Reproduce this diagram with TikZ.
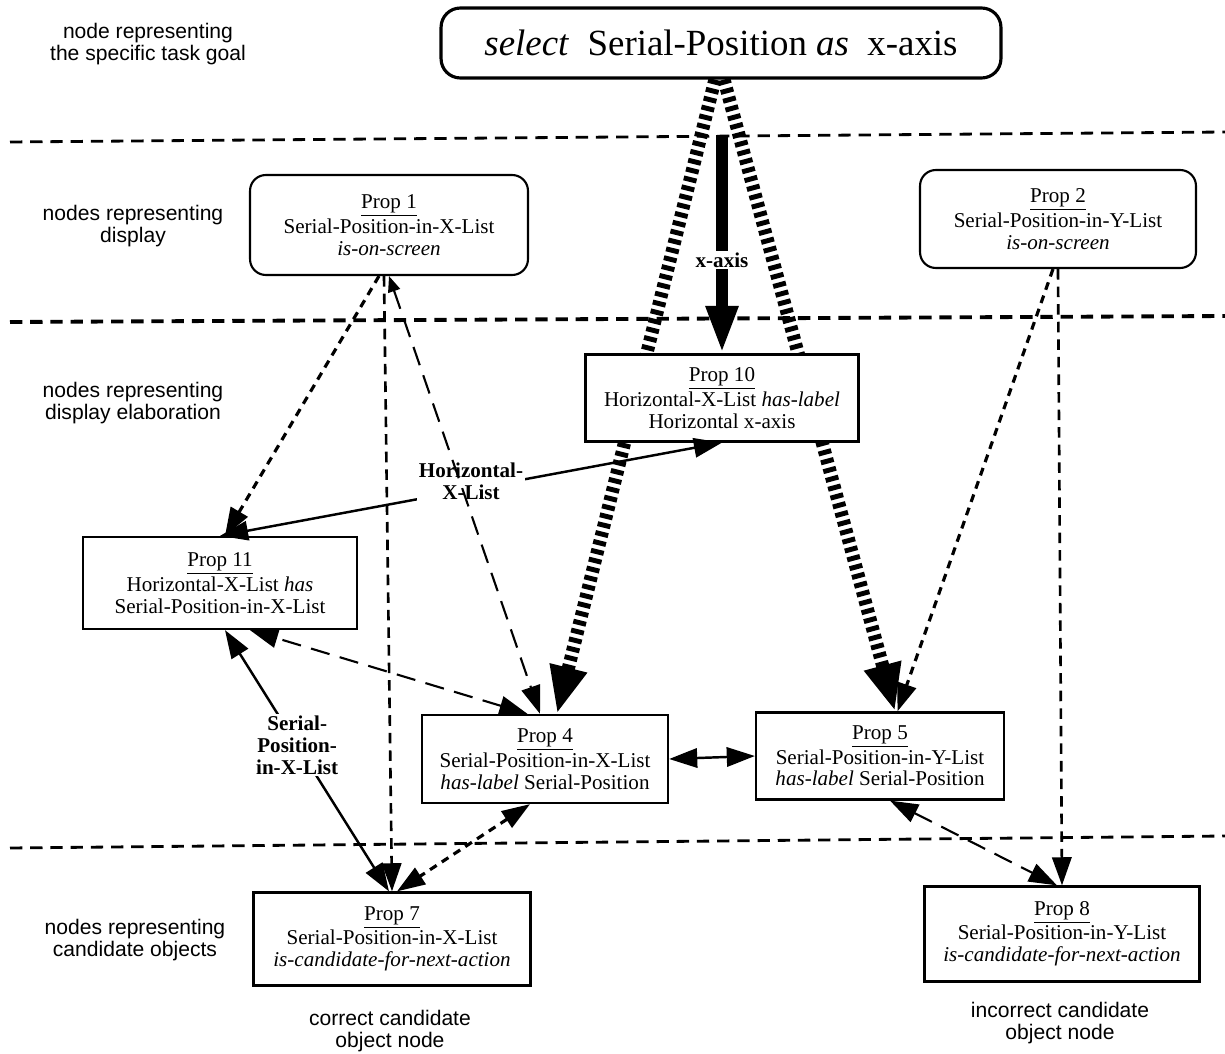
\documentclass[tikz,border=0pt]{standalone}
\usepackage{fontspec}
\setmainfont{Liberation Serif}
\setsansfont{Liberation Sans}
\usepackage{tikz}
\tikzset{
	prop/.style={draw,fill=white,line width=1.3pt,align=center,inner sep=1pt,font=\fontsize{12}{12.5}\selectfont},
	disp/.style={prop,rounded corners=9pt,line width=1.2pt},
	side/.style={align=center,font=\sffamily\fontsize{12}{12.5}\selectfont},
	lbl/.style={fill=white,inner sep=1pt,align=center,font=\bfseries\fontsize{12}{12.5}\selectfont},
	onehead/.style={-{Triangle[length=16pt,width=11pt]}},
	twohead/.style={{Triangle[length=16pt,width=11pt]}-{Triangle[length=16pt,width=11pt]}},
	smallback/.style={{Triangle[length=9pt,width=7pt]}-{Triangle[length=16pt,width=11pt]}},
	sol/.style={line width=1.4pt},
	dotty/.style={line width=1.8pt,dash pattern=on 4.5pt off 3.5pt},
	dashy/.style={line width=1.2pt,dash pattern=on 11pt off 6pt},
	vdash/.style={line width=1.5pt,dash pattern=on 6pt off 4pt},
	hatch/.style={line width=7.5pt,dash pattern=on 2.8pt off 2.4pt,-{Triangle[length=27pt,width=20pt]}},
	sepline/.style={line width=1.6pt,dash pattern=on 7pt off 4.5pt}
}
\usetikzlibrary{arrows.meta}

\begin{document}
\begin{tikzpicture}[x=0.02cm,y=-0.02cm]
	\useasboundingbox (0,0) rectangle (1225,1054);
	% levels
	\draw[sepline] (10,142) -- (1225,132);
	\draw[sepline,line width=2.2pt] (10,322) -- (1225,316);
	\draw[sepline] (10,848) -- (1225,836);
	\node[side] (tgoal) at (148,44) {node representing\\the specific task goal};
	\node[side] (tdisp) at (133,226) {nodes representing\\display};
	\node[side] (telab) at (133,403) {nodes representing\\display elaboration};
	\node[side] (tcand) at (135,940) {nodes representing\\candidate objects};
	\node[side] (tright) at (390,1031) {correct candidate\\object node};
	\node[side] (twrong) at (1060,1023) {incorrect candidate\\object node};

	\node[prop,rounded corners=11pt,line width=1.8pt,minimum width=11.2cm,minimum height=1.4cm,font=\fontsize{21}{24}\selectfont] (goal) at (721,43) {\textit{select}\ \ Serial-Position \textit{as}\ \ x-axis};
	\node[prop,minimum width=4.92cm,minimum height=1.76cm] (p4) at (545,759) {\underline{Prop 4}\\Serial-Position-in-X-List\\\textit{has-label} Serial-Position};
	\node[prop,minimum width=4.96cm,minimum height=1.74cm] (p5) at (880,756) {\underline{Prop 5}\\Serial-Position-in-Y-List\\\textit{has-label} Serial-Position};
	\draw[hatch] ([xshift=-0.12cm]goal.south) -- ([xshift=0.24cm]p4.north);
	\draw[hatch] ([xshift=0.06cm]goal.south) -- ([xshift=0.3cm]p5.north);

	\node[disp,minimum width=5.56cm,minimum height=2cm] (p1) at (389,225) {\underline{Prop 1}\\Serial-Position-in-X-List\\\textit{is-on-screen}};
	\node[disp,minimum width=5.52cm,minimum height=1.96cm] (p2) at (1058,219) {\underline{Prop 2}\\Serial-Position-in-Y-List\\\textit{is-on-screen}};
	\node[prop,minimum width=5.46cm,minimum height=1.74cm] (p10) at (722,398) {\underline{Prop 10}\\Horizontal-X-List \textit{has-label}\\Horizontal x-axis};
	\node[prop,minimum width=5.48cm,minimum height=1.84cm] (p11) at (220,583) {\underline{Prop 11}\\Horizontal-X-List \textit{has}\\Serial-Position-in-X-List};
	\node[prop,minimum width=5.54cm,minimum height=1.86cm] (p7) at (392,939) {\underline{Prop 7}\\Serial-Position-in-X-List\\\textit{is-candidate-for-next-action}};
	\node[prop,minimum width=5.5cm,minimum height=1.9cm] (p8) at (1062,934) {\underline{Prop 8}\\Serial-Position-in-Y-List\\\textit{is-candidate-for-next-action}};

	\draw[line width=6.5pt,-{Triangle[length=27pt,width=17pt]},shorten <=1.1cm] (goal.south -| p10) -- node[lbl,pos=0.66]{x-axis} (p10);
	\draw[sol,twohead] (p11.north) -- node[lbl,pos=0.5,yshift=0.15cm]{Horizontal-\\X-List} (p10.south);
	\draw[sol,twohead] ([xshift=0.1cm]p11.south) -- node[lbl,pos=0.44]{Serial-\\Position-\\in-X-List} ([xshift=-0.06cm]p7.north);
	\draw[sol,twohead] (p4.east) -- (p5.west);
	% display links
	\draw[dotty,onehead] ([xshift=-0.2cm]p1.south) -- ([xshift=0.1cm]p11.north);
	\draw[dashy,smallback] (p1.south) -- ([xshift=-0.1cm]p4.north);
	\draw[vdash,onehead] ([xshift=-0.1cm]p1.south) -- (p7.north);
	\draw[dotty,onehead] ([xshift=-0.1cm]p2.south) -- ([xshift=0.35cm]p5.north);
	\draw[vdash,onehead] (p2.south) -- (p8.north);
	% elaboration links
	\draw[dashy,twohead] ([xshift=-0.35cm]p4.north) -- ([xshift=0.6cm]p11.south);
	\draw[dotty,twohead] ([xshift=-0.3cm]p4.south) -- ([xshift=0.1cm]p7.north);
	\draw[dashy,twohead] ([xshift=0.2cm]p5.south) -- ([xshift=-0.1cm]p8.north);
\end{tikzpicture}
\end{document}
